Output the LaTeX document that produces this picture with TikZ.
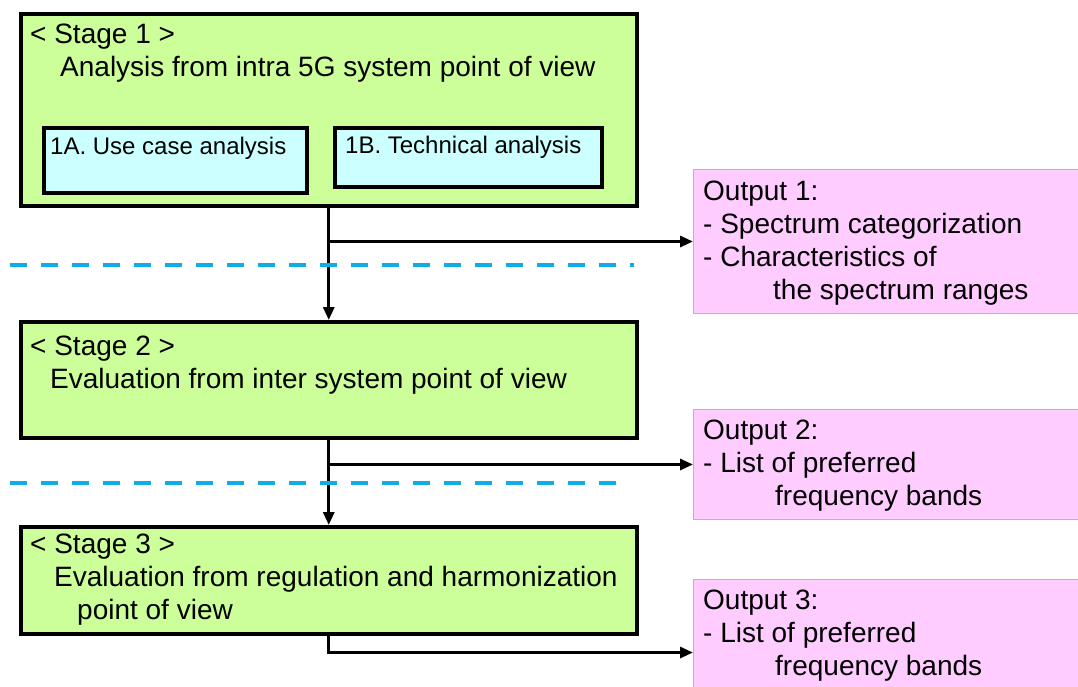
\documentclass[tikz,border=0pt]{standalone}
\usepackage{fontspec}
\setmainfont{Liberation Sans}
\usetikzlibrary{arrows.meta}

\definecolor{stagegreen}{HTML}{CCFF99}
\definecolor{subcyan}{HTML}{CCFFFF}
\definecolor{outpink}{HTML}{FFCCFF}
\definecolor{outgray}{HTML}{B8B8B8}
\definecolor{dashblue}{HTML}{10ACE6}

\begin{document}
\begin{tikzpicture}[
    x=1pt, y=-1pt,
    stagebox/.style={draw, line width=3.5pt, fill=stagegreen, inner sep=0pt, anchor=north west, minimum width=616pt},
    subbox/.style={draw, line width=3.5pt, fill=subcyan, inner sep=0pt, anchor=north west},
    outbox/.style={draw=outgray, line width=1pt, fill=outpink, inner sep=0pt, anchor=north west, minimum width=400pt},
    txt/.style={inner sep=0pt, anchor=north west, align=left, font=\fontsize{28}{33}\selectfont},
    subtxt/.style={inner sep=0pt, anchor=north west, font=\fontsize{24}{28}\selectfont},
    conn/.style={line width=3pt, -{Triangle[length=13pt,width=11pt]}},
    divider/.style={draw=dashblue, line width=4pt, dash pattern=on 17pt off 14pt}
]
\useasboundingbox (0,0) rectangle (1078,686);

% Stage 1: intra 5G analysis
\node[stagebox, minimum height=192pt] (s1) at (19,12) {};
\node[txt] (s1text) at (30,24) {< Stage 1 >\\\hspace*{30pt}Analysis from intra 5G system point of view};
\node[subbox, minimum width=263pt, minimum height=65pt] (s1a) at (42,126) {};
\node[subtxt] (s1atext) at (50,137) {1A. Use case analysis};
\node[subbox, minimum width=267pt, minimum height=59pt] (s1b) at (333,126) {};
\node[subtxt] (s1btext) at (345,136) {1B. Technical analysis};

% Stage 2: inter system evaluation
\node[stagebox, minimum height=116pt] (s2) at (19,320) {};
\node[txt] (s2text) at (30,336) {< Stage 2 >\\\hspace*{20pt}Evaluation from inter system point of view};

% Stage 3: regulation and harmonization
\node[stagebox, minimum height=107pt] (s3) at (19,525) {};
\node[txt] (s3text) at (30,534) {< Stage 3 >\\\hspace*{24pt}Evaluation from regulation and harmonization\\\hspace*{47pt}point of view};

% Outputs
\node[outbox, minimum height=144pt] (o1) at (693,169) {};
\node[txt] (o1text) at (703,181) {Output 1:\\- Spectrum categorization\\- Characteristics of\\\hspace*{70pt}the spectrum ranges};
\node[outbox, minimum height=110pt] (o2) at (693,409) {};
\node[txt] (o2text) at (703,420) {Output 2:\\- List of preferred\\\hspace*{72pt}frequency bands};
\node[outbox, minimum height=146pt] (o3) at (693,579) {};
\node[txt] (o3text) at (703,590) {Output 3:\\- List of preferred\\\hspace*{72pt}frequency bands};

% Flow between stages and to outputs
\draw[conn] (s1.south) -- (s2.north);
\draw[conn] (s1.south |- o1.west) -- (o1.west);
\draw[conn] (s2.south) -- (s3.north);
\draw[conn] (s2.south |- o2.west) -- (o2.west);
\draw[conn] (s3.south) |- (o3.west);

% Dashed separators
\draw[divider] (10,265) -- (634,265);
\draw[divider] (10,483) -- (620,483);

\end{tikzpicture}
\end{document}
